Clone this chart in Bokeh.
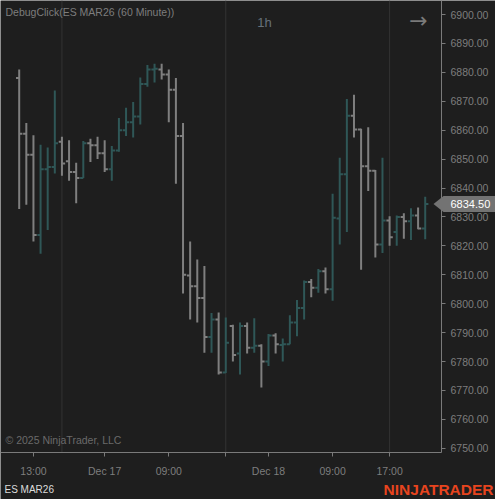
from bokeh.plotting import figure
from bokeh.models import (Range1d, FixedTicker, NumeralTickFormatter, Label,
                          PolyAnnotation, ColumnDataSource)
from bokeh.embed import file_html
from bokeh.resources import INLINE

# ---- data: ES MAR26, 60 minute bars ----
opens = [6878.0, 6858.75, 6851.5, 6823.75, 6846.5, 6847.25, 6856.0, 6849.25, 6845.5, 6843.5,
         6855.5, 6854.75, 6852.0, 6846.5, 6853.0, 6860.0, 6862.75, 6864.75, 6876.0, 6881.0,
         6881.0, 6879.25, 6874.0, 6858.0, 6809.75, 6806.0, 6802.0, 6788.5, 6794.5, 6776.25,
         6792.25, 6782.75, 6792.25, 6784.75, 6785.5, 6780.0, 6789.0, 6785.75, 6786.0, 6793.5,
         6798.5, 6807.5, 6805.5, 6811.25, 6805.0, 6829.5, 6844.75, 6865.0, 6860.25, 6847.5,
         6846.0, 6820.5, 6828.75, 6824.75, 6830.0, 6828.5, 6830.5, 6826.0]
highs = [6881.0, 6862.5, 6858.25, 6855.0, 6854.0, 6873.75, 6857.75, 6856.5, 6848.75, 6856.25,
         6857.0, 6857.75, 6856.5, 6854.5, 6864.25, 6867.75, 6869.75, 6878.25, 6882.5, 6883.0,
         6883.0, 6881.0, 6878.0, 6862.5, 6821.5, 6815.25, 6813.0, 6796.75, 6797.0, 6795.25,
         6792.75, 6793.5, 6793.5, 6795.0, 6786.0, 6789.5, 6789.75, 6788.0, 6796.0, 6801.25,
         6808.0, 6808.5, 6812.0, 6812.5, 6838.0, 6850.5, 6870.75, 6872.25, 6860.5, 6861.0,
         6846.25, 6850.5, 6830.25, 6830.5, 6831.25, 6833.0, 6833.25, 6837.0]
lows = [6832.75, 6834.25, 6821.5, 6817.25, 6825.5, 6845.0, 6844.25, 6842.5, 6834.75, 6843.5,
        6849.0, 6850.0, 6845.5, 6842.5, 6852.5, 6858.0, 6857.5, 6862.0, 6875.0, 6876.5,
        6877.5, 6862.75, 6841.5, 6803.5, 6794.5, 6793.5, 6783.0, 6783.0, 6775.5, 6776.0,
        6780.0, 6775.5, 6782.75, 6783.0, 6771.0, 6778.5, 6782.75, 6780.0, 6786.0, 6788.75,
        6794.5, 6802.25, 6803.75, 6803.5, 6801.0, 6820.5, 6824.75, 6857.5, 6811.75, 6839.0,
        6816.0, 6817.5, 6820.0, 6820.0, 6822.5, 6822.0, 6825.75, 6822.25]
closes = [6858.75, 6851.5, 6823.75, 6846.5, 6847.25, 6855.5, 6848.5, 6845.5, 6843.5, 6855.5,
          6854.75, 6852.0, 6846.5, 6853.0, 6860.0, 6862.75, 6864.75, 6876.0, 6881.0, 6881.25,
          6879.25, 6874.0, 6858.0, 6810.0, 6806.0, 6802.0, 6788.5, 6794.5, 6776.25, 6786.5,
          6782.25, 6792.25, 6784.75, 6785.5, 6780.0, 6789.0, 6786.0, 6786.0, 6793.5, 6798.5,
          6807.5, 6805.5, 6811.25, 6805.0, 6829.75, 6844.75, 6865.0, 6860.25, 6847.5, 6846.0,
          6820.5, 6828.75, 6823.0, 6830.0, 6828.5, 6830.5, 6826.0, 6834.5]

tick_positions = [2, 12, 21, 29, 35, 44, 52]
tick_labels = ["13:00", "Dec 17", "09:00", "", "Dec 18", "09:00", "17:00"]
session_lines = [6, 29, 52]
price_ticks = [6750, 6760, 6770, 6780, 6790, 6800, 6810, 6820, 6830,
               6840, 6850, 6860, 6870, 6880, 6890, 6900]

# ---- layout (pixels) ----
W, H = 495, 499
PX_BAR = 7.123          # px per bar
PX_PT = 2.892           # px per price point
FIRST_BAR_PX = 18.7     # x of first bar
TOP_PRICE = 6900
TOP_PRICE_PX = 14       # y of the 6900 level
AXIS_X_PX = 441         # right axis line
AXIS_Y_PX = 452         # bottom axis line

x0 = -FIRST_BAR_PX / PX_BAR
x1 = x0 + W / PX_BAR
y1 = TOP_PRICE + TOP_PRICE_PX / PX_PT
y0 = y1 - H / PX_PT
x_axis_at = x0 + AXIS_X_PX / PX_BAR
y_axis_at = y1 - AXIS_Y_PX / PX_PT

# ---- styles ----
BG = "#1e1e1e"
UP = "#2f5757"
DOWN = "#7f7f7f"
AX = "#7a7a7a"
TXT = "#7d7d7d"
FONT = "Liberation Sans"
FS = "10.5px"

idx = list(range(len(opens)))
colors = [UP if c >= o else DOWN for o, c in zip(opens, closes)]
src = ColumnDataSource(dict(
    x=idx,
    xo=[i - 0.45 for i in idx],
    xc=[i + 0.45 for i in idx],
    o=opens, h=highs, l=lows, c=closes, color=colors))

p = figure(width=W, height=H, output_backend="svg", toolbar_location=None,
           x_range=Range1d(x0, x1), y_range=Range1d(y0, y1),
           y_axis_location="right",
           min_border_left=0, min_border_top=0, min_border_right=0, min_border_bottom=0,
           background_fill_color=BG, border_fill_color=BG, outline_line_color=None)
p.xgrid.visible = False
p.ygrid.visible = False

# session separators
p.segment(x0=session_lines, x1=session_lines,
          y0=[y_axis_at] * len(session_lines), y1=[y1] * len(session_lines),
          line_color="#333333", line_width=1)

# OHLC bars
p.segment(x0="x", x1="x", y0="l", y1="h", line_color="color", line_width=2, source=src)
p.segment(x0="xo", x1="x", y0="o", y1="o", line_color="color", line_width=2, source=src)
p.segment(x0="x", x1="xc", y0="c", y1="c", line_color="color", line_width=2, source=src)

# x axis
xa = p.xaxis[0]
xa.ticker = FixedTicker(ticks=tick_positions)
xa.major_label_overrides = {t: l for t, l in zip(tick_positions, tick_labels)}
xa.fixed_location = y_axis_at
xa.bounds = (x0, x_axis_at)
# y axis
ya = p.yaxis[0]
ya.ticker = FixedTicker(ticks=price_ticks)
ya.formatter = NumeralTickFormatter(format="0.00")
ya.fixed_location = x_axis_at
ya.bounds = (y_axis_at, y1)
for ax in (xa, ya):
    ax.axis_line_color = AX
    ax.major_tick_line_color = AX
    ax.minor_tick_line_color = None
    ax.major_tick_out = 4
    ax.major_tick_in = 0
    ax.major_label_text_color = TXT
    ax.major_label_text_font = FONT
    ax.major_label_text_font_size = FS
xa.major_label_standoff = 8
ya.major_label_standoff = 5

# texts
def lab(x, y, text, color, size, align="left", style="normal", font=FONT, yu="canvas"):
    p.add_layout(Label(x=x, y=y, x_units="canvas", y_units=yu, text=text,
                       text_color=color, text_font_size=size, text_align=align,
                       text_baseline="middle", text_font=font,
                       text_font_style=style))

lab(5, 11, "DebugClick(ES MAR26 (60 Minute))", TXT, FS)
lab(264, 22, "1h", "#66717a", "13px", align="center")
lab(418, 20, "\u2192", "#7a7a7a", "22px", align="center", font="DejaVu Sans")
lab(5, 439, "\u00a9 2025 NinjaTrader, LLC", "#6a6a6a", FS)
lab(4, 489, "ES MAR26", "#dcdcdc", "10px")
lab(493, 489, "NINJATRADER", "#e8441e", "15.5px", align="right", style="bold")

# last price marker
lp = closes[-1]
half = 8 / PX_PT
p.add_layout(PolyAnnotation(xs=[433, 443, W, W, 443],
                            ys=[lp, lp + half, lp + half, lp - half, lp - half],
                            xs_units="canvas", ys_units="data",
                            fill_color="#737373", fill_alpha=1.0, line_color=None))
lab(450, lp, "%.2f" % lp, "#ffffff", "11px", yu="data")

open("out.html", "w").write(file_html(p, INLINE))
